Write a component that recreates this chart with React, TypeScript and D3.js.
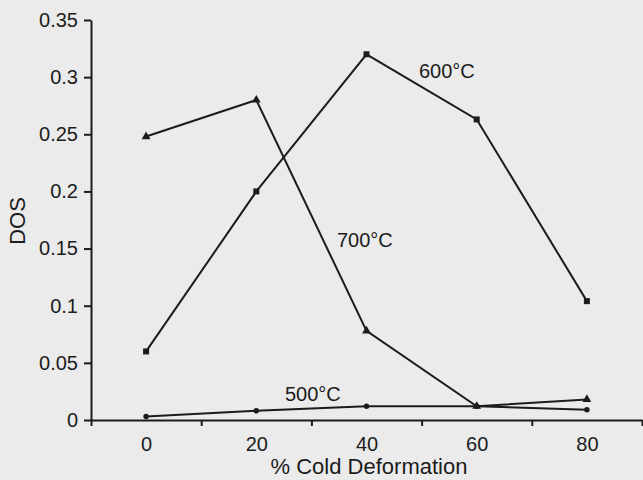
import React, { useRef, useEffect } from "react";
import * as d3 from "d3";

const deformation = [0, 20, 40, 60, 80];
const dos600 = [0.06, 0.2, 0.32, 0.263, 0.104];
const dos700 = [0.248, 0.28, 0.078, 0.012, 0.018];
const dos500 = [0.003, 0.008, 0.012, 0.012, 0.009];
const yTicks = [0, 0.05, 0.1, 0.15, 0.2, 0.25, 0.3, 0.35];
const yTickLabels = ["0", "0.05", "0.1", "0.15", "0.2", "0.25", "0.3", "0.35"];
const xMinorTicks = [-10, 10, 30, 50, 70, 90];
const xTickLabels = ["0", "20", "40", "60", "80"];

const W = 643;
const H = 480;
const ink = "#1c1c1c";
const font = "'Liberation Sans', Arial, sans-serif";

const App = () => {
  const ref = useRef<SVGSVGElement | null>(null);

  useEffect(() => {
    const svg = d3.select(ref.current);
    svg.selectAll("*").remove();

    svg.append("rect").attr("width", W).attr("height", H).attr("fill", "#ebebeb");

    const x = d3.scaleLinear().domain([-10, 90]).range([91, 642]);
    const y = d3.scaleLinear().domain([0, 0.35]).range([420, 20]);

    // y axis
    const ya = svg
      .append("g")
      .attr("transform", `translate(${x(-10)},0)`)
      .call(
        d3
          .axisLeft(y)
          .tickValues(yTicks)
          .tickFormat((d, i) => yTickLabels[i])
          .tickSize(7)
          .tickPadding(6)
          .tickSizeOuter(0)
      );

    // x axis: ticks sit between the labels
    const xa = svg
      .append("g")
      .attr("transform", `translate(0,${y(0)})`)
      .call(d3.axisBottom(x).tickValues(xMinorTicks).tickFormat(() => "").tickSize(6).tickSizeOuter(0));

    const xl = svg
      .append("g")
      .attr("transform", `translate(0,${y(0)})`)
      .call(
        d3
          .axisBottom(x)
          .tickValues(deformation)
          .tickFormat((d, i) => xTickLabels[i])
          .tickSize(0)
          .tickPadding(17)
      );
    xl.select(".domain").remove();

    [ya, xa, xl].forEach((g) => {
      g.selectAll("path, line").attr("stroke", ink).attr("stroke-width", 2);
      g.selectAll("text")
        .attr("fill", ink)
        .style("font-family", font)
        .style("font-size", "20px");
    });

    const series = [
      { values: dos600, symbol: d3.symbolSquare, size: 36 },
      { values: dos700, symbol: d3.symbolTriangle, size: 34 },
      { values: dos500, symbol: d3.symbolCircle, size: 24 },
    ];

    const line = d3
      .line<number>()
      .x((d, i) => x(deformation[i]))
      .y((d) => y(d));

    series.forEach((s) => {
      svg
        .append("path")
        .attr("d", line(s.values))
        .attr("fill", "none")
        .attr("stroke", ink)
        .attr("stroke-width", 2);
      svg
        .append("g")
        .selectAll("path")
        .data(s.values)
        .enter()
        .append("path")
        .attr("d", d3.symbol().type(s.symbol).size(s.size)())
        .attr("transform", (d, i) => `translate(${x(deformation[i])},${y(d)})`)
        .attr("fill", ink);
    });

    const labels = [
      { text: "600°C", x: 419, y: 78 },
      { text: "700°C", x: 337, y: 247 },
      { text: "500°C", x: 285, y: 401 },
    ];
    svg
      .selectAll(".series-label")
      .data(labels)
      .enter()
      .append("text")
      .attr("class", "series-label")
      .attr("x", (d) => d.x)
      .attr("y", (d) => d.y)
      .attr("fill", ink)
      .style("font-family", font)
      .style("font-size", "20px")
      .text((d) => d.text);

    svg
      .append("text")
      .attr("transform", "translate(25,221) rotate(-90)")
      .attr("text-anchor", "middle")
      .attr("fill", ink)
      .style("font-family", font)
      .style("font-size", "22px")
      .text("DOS");

    svg
      .append("text")
      .attr("x", 369)
      .attr("y", 474)
      .attr("text-anchor", "middle")
      .attr("fill", ink)
      .style("font-family", font)
      .style("font-size", "22px")
      .text("% Cold Deformation");
  }, []);

  return (
    <svg
      ref={ref}
      width={W}
      height={H}
      style={{ position: "absolute", left: 0, top: 0, display: "block" }}
    />
  );
};

export default App;
